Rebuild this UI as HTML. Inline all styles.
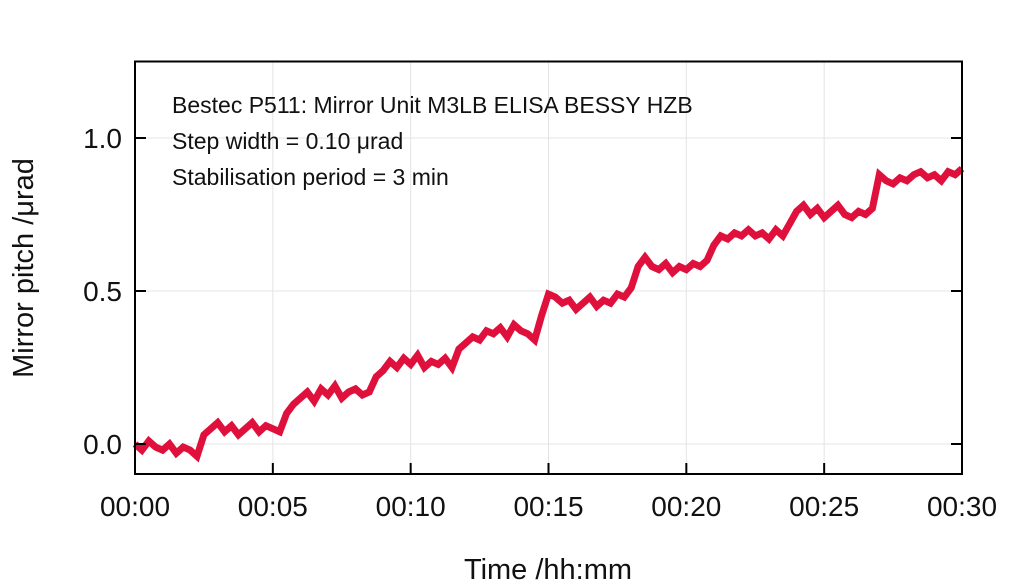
<!DOCTYPE html>
<html><head><meta charset="utf-8"><style>
body{margin:0;background:#fff;}
svg{display:block;font-family:"Liberation Sans",sans-serif;}
</style></head><body>
<svg id="chart" width="1024" height="588">
<g id="grid"></g>
<g id="series"></g>
<rect x="135" y="61.5" width="827" height="412.5" fill="none" stroke="#000" stroke-width="2"/>
<g id="ticks"></g>
<g font-size="23" fill="#111">
<text x="172" y="113">Bestec P511: Mirror Unit M3LB ELISA BESSY HZB</text>
<text x="172" y="149">Step width = 0.10 μrad</text>
<text x="172" y="185">Stabilisation period = 3 min</text>
</g>
<text x="548" y="579" text-anchor="middle" font-size="29" fill="#111">Time /hh:mm</text>
<text transform="translate(33,268) rotate(-90)" text-anchor="middle" font-size="29" fill="#111">Mirror pitch /μrad</text>
</svg>
<script>
const xTickLabels=["00:00","00:05","00:10","00:15","00:20","00:25","00:30"];
const xTickMinutes=[0,5,10,15,20,25,30];
const yTickValues=[0,0.5,1.0];
const yTickLabels=["0.0","0.5","1.0"];
const timeStep=0.25;
const pitch=[0.00,-0.02,0.01,-0.01,-0.02,0.00,-0.03,-0.01,-0.02,-0.04,
0.03,
0.05,0.07,0.04,0.06,0.03,0.05,0.07,0.04,0.06,0.05,0.04,
0.10,
0.13,0.15,0.17,0.14,0.18,0.16,0.19,0.15,0.17,0.18,0.16,0.17,
0.22,0.24,0.27,0.25,0.28,0.26,0.29,0.25,0.27,0.26,0.28,0.25,
0.31,
0.33,0.35,0.34,0.37,0.36,0.38,0.35,0.39,0.37,0.36,0.34,
0.42,
0.49,0.48,0.46,0.47,0.44,0.46,0.48,0.45,0.47,0.46,0.49,0.48,0.51,
0.58,0.61,0.58,0.57,0.59,0.56,0.58,0.57,0.59,0.58,0.60,
0.65,0.68,0.67,0.69,0.68,0.70,0.68,0.69,0.67,0.70,0.68,0.72,
0.76,0.78,0.75,0.77,0.74,0.76,0.78,0.75,0.74,0.76,0.75,0.77,
0.88,0.86,0.85,0.87,0.86,0.88,0.89,0.87,0.88,0.86,0.89,0.88,0.90];
const NS="http://www.w3.org/2000/svg";
const X0=135,X1=962,Y0=474,Y1=61.5,XMIN=0,XMAX=30,YMIN=-0.098,YMAX=1.25;
const xs=m=>X0+(m-XMIN)/(XMAX-XMIN)*(X1-X0);
const ys=v=>Y0-(v-YMIN)/(YMAX-YMIN)*(Y0-Y1);
function mk(tag,attrs,parent){const e=document.createElementNS(NS,tag);for(const k in attrs)e.setAttribute(k,attrs[k]);parent.appendChild(e);return e;}
const grid=document.getElementById('grid'),ticks=document.getElementById('ticks'),series=document.getElementById('series');
xTickMinutes.forEach((m,i)=>{
 const x=xs(m);
 const g=mk('line',{x1:x,x2:x,y1:Y1,y2:Y0,stroke:'#e4e4e4','stroke-width':1},grid);
 
 
 const t=mk('line',{x1:x,x2:x,y1:Y0,y2:Y0-11,stroke:'#000','stroke-width':2},ticks);
 
 
 const l=mk('text',{x:x,y:516,'text-anchor':'middle','font-size':28,fill:'#111'},ticks);
 l.textContent=xTickLabels[i];
 
 
});
yTickValues.forEach((v,i)=>{
 const y=ys(v);
 const g=mk('line',{x1:X0,x2:X1,y1:y,y2:y,stroke:'#e4e4e4','stroke-width':1},grid);
 
 
 const t=mk('line',{x1:X0,x2:X0+11,y1:y,y2:y,stroke:'#000','stroke-width':2},ticks);
 
 
 const t2=mk('line',{x1:X1-11,x2:X1,y1:y,y2:y,stroke:'#000','stroke-width':2},ticks);
 
 
 const l=mk('text',{x:122,y:y+10,'text-anchor':'end','font-size':28,fill:'#111'},ticks);
 l.textContent=yTickLabels[i];
 
 
});
let pts=[];
pitch.forEach((v,i)=>{const t=i*timeStep;pts.push(xs(t).toFixed(1)+','+ys(v).toFixed(1));});
const pl=mk('polyline',{points:pts.join(' '),fill:'none',stroke:'#e0103c','stroke-width':7,'stroke-linejoin':'miter'},series);


</script>
</body></html>
